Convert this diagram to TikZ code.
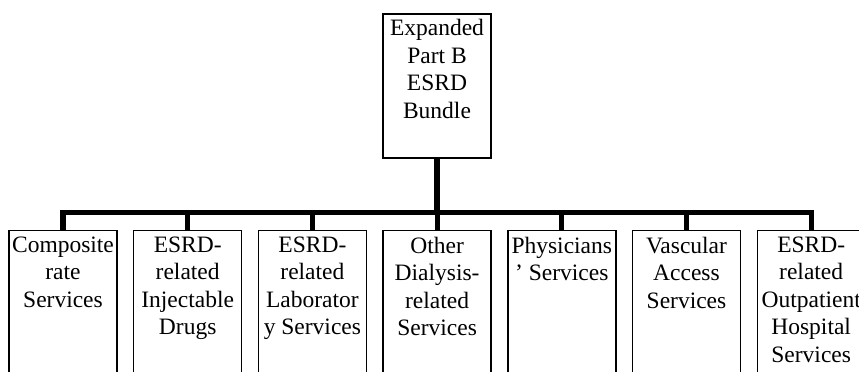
\documentclass[tikz,border=0pt]{standalone}
\usepackage{fontspec}
\setmainfont{Liberation Serif}
\usetikzlibrary{calc}
\tikzset{
  orgbox/.style={draw, line width=0.7pt, minimum width=54pt, inner sep=0pt},
  orgtext/.style={anchor=north, inner sep=0pt, align=center,
    font=\fontsize{11.75}{13.75}\selectfont},
  branch/.style={line width=2.6pt},
}
\newcommand*{\ChildBoxes}[1]{% #1 = list of index/text
  \foreach \i/\txt in {#1} {
    \node [orgbox, minimum height=80pt] (c\i) at ({63+124.7*(\i-1)}, 310.7) {};
    \node [orgtext] (t\i) at ($(c\i.north)+(0,6.3)$) {\txt};
    }%
}

\begin{document}
\begin{tikzpicture}[x=0.5pt, y=-0.5pt]
  \useasboundingbox (0,0) rectangle (859,371);
  \node [orgbox, minimum height=72pt] (top) at (437,86) {};
  \node [orgtext] (toptext) at ($(top.north)+(0,5.5)$) {Expanded\\Part B\\ESRD\\Bundle};
  \ChildBoxes{1/Composite\\rate\\Services, 2/ESRD-\\related\\Injectable\\Drugs,
    3/ESRD-\\related\\Laborator\\y Services, 4/Other\\Dialysis-\\related\\Services}
  \ChildBoxes{5/Physicians\\’ Services, 6/Vascular\\Access\\Services,
    7/ESRD-\\related\\Outpatient\\Hospital\\Services}
  % connectors
  \coordinate (bar) at (437,212.5);
  \draw [branch] (top.south) -- (top.south |- bar);
  \draw [branch, line join=miter] (c1.north) -- (c1.north |- bar) -- (c7.north |- bar) -- (c7.north);
  \foreach \i in {2,...,6}
    \draw [branch] (c\i.north) -- (c\i.north |- bar);
\end{tikzpicture}
\end{document}
